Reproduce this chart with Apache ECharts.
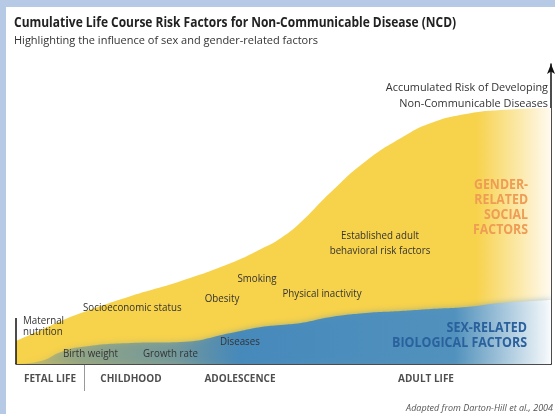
<!DOCTYPE html>
<html>
<head>
<meta charset="utf-8">
<script src="https://cdn.jsdelivr.net/npm/echarts@6/dist/echarts.min.js"></script>
<style>
  html, body { margin: 0; padding: 0; background: #fff; }
  #chart { width: 555px; height: 414px; }
</style>
</head>
<body>
<div id="chart"></div>
<script>
// position along the life course (arbitrary units, fetal life -> adult life)
const lifeX = [0, 5, 9, 13, 23, 33, 43, 49, 53, 57, 63, 70, 77, 83, 90, 97, 107]
// accumulated risk, gender-related social factors (top of the yellow area)
const socialRisk = [11.5, 17, 21.5, 25.5, 34, 41.5, 50.5, 57.5, 63, 71, 86, 101.5, 113, 120.5, 125, 127, 128]
// sex-related biological factors (top of the blue area)
const bioRisk = [0, 1.5, 6, 8.5, 10.5, 11, 15.5, 18.5, 19.5, 20.5, 23.5, 25.5, 26.5, 27.5, 28.5, 30.5, 32]

const stages = ['FETAL LIFE', 'CHILDHOOD', 'ADOLESCENCE', 'ADULT LIFE']
const stageAt = [6.8, 23, 44.8, 82]

const FONT = "'Open Sans', sans-serif"
const YELLOW = '#f7d24b'

const chart = echarts.init(document.getElementById('chart'))

function pairs(ys) {
  return lifeX.map((x, i) => [x, ys[i]])
}

// text helper, sx squeezes the glyphs a bit (source uses a condensed face)
function txt(text, x, y, opts, sx) {
  return {
    type: 'text',
    x: x,
    y: y,
    z: 100,
    scaleX: sx || 0.93,
    style: Object.assign({
      text: text,
      fill: '#333',
      fontSize: 10.5,
      fontFamily: FONT,
      align: 'left',
      verticalAlign: 'middle',
      lineHeight: 12
    }, opts || {})
  }
}

const graphics = [
  // light blue frame
  { type: 'rect', shape: { x: 0, y: 0, width: 555, height: 7 }, style: { fill: '#b6c9e5' }, z: 100 },
  { type: 'rect', shape: { x: 0, y: 0, width: 6, height: 414 }, style: { fill: '#b6c9e5' }, z: 100 },
  // short left axis line and stage divider
  { type: 'line', shape: { x1: 16, y1: 318, x2: 16, y2: 364 }, style: { stroke: '#111', lineWidth: 1.5 }, z: 100 },
  { type: 'line', shape: { x1: 84.5, y1: 365, x2: 84.5, y2: 391 }, style: { stroke: '#999', lineWidth: 1 }, z: 100 },

  txt('Cumulative Life Course Risk Factors for Non-Communicable Disease (NCD)', 14, 23, { fontSize: 14, fontWeight: 'bold', fill: '#222' }, 0.855),
  txt('Highlighting the influence of sex and gender-related factors', 14, 41, { fontSize: 11, fill: '#333' }, 1),

  txt('Accumulated Risk of Developing\nNon-Communicable Diseases', 548, 96, { fontSize: 11, align: 'right', lineHeight: 16 }, 0.99),
  txt('GENDER-\nRELATED\nSOCIAL\nFACTORS', 528, 207.5, { fontSize: 14, fontWeight: 'bold', fill: '#ef9c55', align: 'right', lineHeight: 15 }, 0.88),
  txt('SEX-RELATED\nBIOLOGICAL FACTORS', 527, 335.5, { fontSize: 14, fontWeight: 'bold', fill: '#2a619c', align: 'right', lineHeight: 15 }, 0.89),

  txt('Established adult\nbehavioral risk factors', 380, 243.5, { align: 'center', lineHeight: 15 }),
  txt('Smoking', 257, 279, { align: 'center' }),
  txt('Obesity', 222, 299, { align: 'center' }),
  txt('Physical inactivity', 322, 294, { align: 'center' }),
  txt('Socioeconomic status', 83, 308),
  txt('Maternal\nnutrition', 23, 326.5, { lineHeight: 11.5 }),
  txt('Birth weight', 63, 354),
  txt('Growth rate', 143, 354),
  txt('Diseases', 220, 342),

  txt('Adapted from Darton-Hill et al., 2004', 553, 408, { fontSize: 9, fontStyle: 'italic', fill: '#555', align: 'right' }, 1)
]

chart.setOption({
  backgroundColor: '#fff',
  animation: false,
  grid: { left: 16, right: 4, top: 64, bottom: 50 },
  xAxis: {
    type: 'value',
    min: 0,
    max: 107,
    axisLine: { show: true, onZero: false, lineStyle: { color: '#111', width: 1.5 } },
    axisTick: { show: false },
    axisLabel: { show: false },
    splitLine: { show: false }
  },
  yAxis: {
    type: 'value',
    position: 'right',
    min: 0,
    max: 150,
    axisLine: { show: true, onZero: false, symbol: ['none', 'arrow'], symbolSize: [6, 10], lineStyle: { color: '#111', width: 1.5 } },
    axisTick: { show: false },
    axisLabel: { show: false },
    splitLine: { show: false }
  },
  series: [
    {
      name: 'Gender-related social factors',
      type: 'line',
      smooth: 0.5,
      showSymbol: false,
      lineStyle: { width: 0 },
      areaStyle: {
        opacity: 1,
        color: new echarts.graphic.LinearGradient(0, 0, 1, 0, [
          { offset: 0, color: YELLOW },
          { offset: 0.86, color: YELLOW },
          { offset: 1, color: '#fffaf0' }
        ])
      },
      data: pairs(socialRisk)
    },
    {
      name: 'Sex-related biological factors',
      type: 'line',
      smooth: 0.5,
      showSymbol: false,
      lineStyle: { width: 0 },
      areaStyle: {
        opacity: 1,
        shadowBlur: 6,
        shadowColor: 'rgba(60,130,190,0.5)',
        color: new echarts.graphic.LinearGradient(0, 0, 1, 0, [
          { offset: 0, color: 'rgba(70,130,170,0.2)' },
          { offset: 0.12, color: 'rgba(70,130,175,0.45)' },
          { offset: 0.3, color: 'rgba(65,130,185,0.6)' },
          { offset: 0.42, color: 'rgba(62,134,192,0.92)' },
          { offset: 0.82, color: 'rgba(72,142,196,0.9)' },
          { offset: 1, color: 'rgba(255,255,255,0.9)' }
        ])
      },
      data: pairs(bioRisk)
    },
    {
      // life stage labels under the baseline
      type: 'scatter',
      symbolSize: 0,
      silent: true,
      label: {
        show: true,
        position: 'bottom',
        distance: 10,
        formatter: '{b}',
        color: '#222',
        fontSize: 10,
        fontWeight: 'bold',
        fontFamily: FONT
      },
      data: stages.map((s, i) => ({ name: s, value: [stageAt[i], 0] }))
    }
  ],
  graphic: graphics
})
</script>
</body>
</html>
